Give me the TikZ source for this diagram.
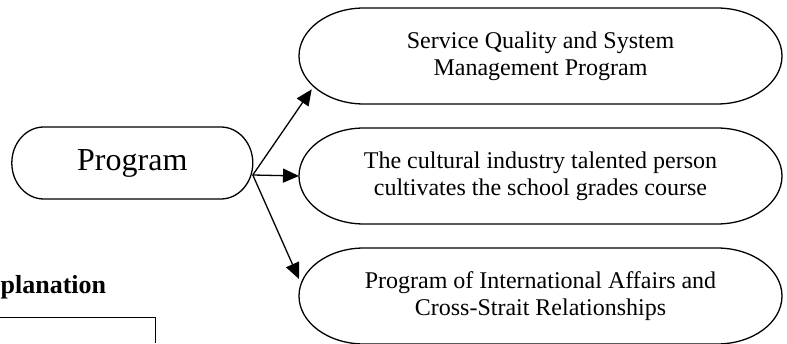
\documentclass[tikz,border=0pt]{standalone}
\usepackage{fontspec}
\setmainfont{Liberation Serif}
\usepackage{tikz}
\usetikzlibrary{
    arrows.meta,
    calc,
    positioning
}
\newcommand{\drawcapsule}[3]{%
    \draw ([xshift=#2]#1.north west) -- ([xshift=-#2]#1.north east)
        arc[start angle=90, end angle=-90, x radius=#2, y radius=#3]
        -- ([xshift=#2]#1.south west)
        arc[start angle=270, end angle=90, x radius=#2, y radius=#3] -- cycle;}
\tikzset{
    progbox/.style={minimum width=241pt, minimum height=72pt, outer sep=0pt, inner sep=0pt,
        font=\fontsize{32pt}{36pt}\selectfont},
    course/.style={minimum width=483pt, minimum height=96pt, outer sep=0pt, inner sep=0pt,
        align=center, font=\fontsize{24pt}{27pt}\selectfont},
    branch/.style={-{Triangle[length=16pt, width=14pt]}}
}

\begin{document}
\begin{tikzpicture}[x=1pt, y=1pt, line width=1.3pt]
                                \useasboundingbox (0, 0) rectangle (787, 343);
                                \node[progbox] (prog) at (132.3, 180) {Program};
                                \node[course] (svc) at (540.5, 287) {Service Quality and System\\Management Program};
                                \node[course] (cult) at (540.5, 167) {The cultural industry talented person\\cultivates the school grades course};
                                \node[course] (intl) at (540.5, 47) {Program of International Affairs and\\Cross-Strait Relationships};
                                \drawcapsule{prog}{32pt}{36pt}
                                \drawcapsule{svc}{65pt}{48pt}
                                \drawcapsule{cult}{65pt}{48pt}
                                \drawcapsule{intl}{65pt}{48pt}
                                \coordinate (fork) at ([yshift=-12pt]prog.east);
                                \draw[branch] (fork) -- ([shift={(12.7pt, 14.7pt)}]svc.south west);
                                \draw[branch] (fork) -- (cult.west);
                                \draw[branch] (fork) -- ([yshift=-31pt]intl.north west);
                                \node[anchor=base west, inner sep=0pt, font=\fontsize{26pt}{29pt}\selectfont\bfseries] (expl) at (0, 50) {planation};
                                \draw (0, 25.7) -- (155.7, 25.7) -- (155.7, 0);
                            \end{tikzpicture}
\end{document}
